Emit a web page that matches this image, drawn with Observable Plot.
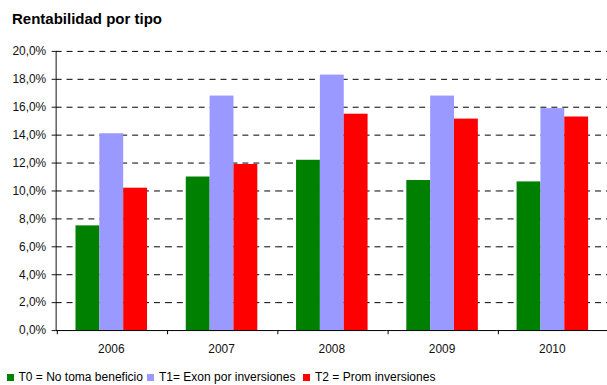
<!DOCTYPE html>
<html>
<head>
<meta charset="utf-8">
<script src="https://cdn.jsdelivr.net/npm/d3@7"></script>
<script src="https://cdn.jsdelivr.net/npm/@observablehq/plot@0.6"></script>
<style>
  html, body { margin: 0; padding: 0; background: #fff; overflow: hidden; }
  #wrap { position: relative; width: 607px; height: 385px; overflow: hidden; font-family: "Liberation Sans", Arial, sans-serif; }
  #title { position: absolute; left: 12px; top: 11px; font-size: 15px; line-height: 15px; font-weight: bold; color: #000; white-space: nowrap; }
  #chart { position: absolute; left: 0; top: 36px; }
  .leg { position: absolute; top: 371px; font-size: 12px; line-height: 13px; color: #000; white-space: nowrap; }
  .leg i { display: inline-block; width: 7px; height: 7px; margin-right: 5px; vertical-align: 0px; }
</style>
</head>
<body>
<div id="wrap">
  <div id="title">Rentabilidad por tipo</div>
  <div id="chart"></div>
  <div id="legend"></div>
</div>
<script>
const years = ["2006", "2007", "2008", "2009", "2010"];
const series = ["T0 = No toma beneficio", "T1= Exon por inversiones", "T2 = Prom inversiones"];
const seriesKeys = ["T0", "T1", "T2"];
const t0 = [7.5, 11.0, 12.2, 10.75, 10.65];
const t1 = [14.1, 16.8, 18.3, 16.8, 15.9];
const t2 = [10.2, 11.9, 15.5, 15.15, 15.3];
const colors = ["#008000", "#9999FF", "#FF0000"];
const yTicks = [0, 2, 4, 6, 8, 10, 12, 14, 16, 18, 20];
const legendLeft = [6.5, 147, 303];

const values = [t0, t1, t2];
const data = [];
years.forEach((y, i) => seriesKeys.forEach((s, j) => data.push({year: y, key: s, value: values[j][i]})));

const W = 611, ML = 56, MR = 0;
const padOuter = 0.75;
const band = (W - ML - MR) / years.length;
const bw = band / (seriesKeys.length + 2 * padOuter);

const plot = Plot.plot({
  width: W,
  height: 326,
  marginTop: 15,
  marginBottom: 30,
  marginLeft: ML,
  marginRight: MR,
  style: {fontFamily: "'Liberation Sans', Arial, sans-serif", fontSize: "12px", color: "#111", background: "#fff", overflow: "visible"},
  fx: {domain: years, padding: 0, tickSize: 0, tickPadding: 14, label: null},
  x: {domain: seriesKeys, paddingInner: 0, paddingOuter: padOuter, axis: null},
  y: {domain: [0, 20], ticks: yTicks, tickSize: 4, tickPadding: 6, line: true, label: null,
      tickFormat: d => d.toFixed(1).replace(".", ",") + "%"},
  color: {domain: seriesKeys, range: colors},
  marks: [
    Plot.ruleY(yTicks.filter(d => d > 0), {stroke: "#000", strokeWidth: 1, strokeDasharray: "6,5"}),
    Plot.barY(data, {fx: "year", x: "key", y: "value", fill: "key"}),
    Plot.ruleY([0], {stroke: "#000", strokeWidth: 1}),
    Plot.ruleX(years, {fx: d => d, x: () => seriesKeys[0], y1: 0, y2: -0.3, dx: -(0.5 + padOuter) * bw, stroke: "#000"})
  ]
});
document.getElementById("chart").appendChild(plot);

const leg = document.getElementById("legend");
series.forEach((s, i) => {
  const d = document.createElement("div");
  d.className = "leg";
  d.style.left = legendLeft[i] + "px";
  const sw = document.createElement("i");
  sw.style.background = colors[i];
  d.appendChild(sw);
  d.appendChild(document.createTextNode(s));
  leg.appendChild(d);
});
</script>
</body>
</html>
